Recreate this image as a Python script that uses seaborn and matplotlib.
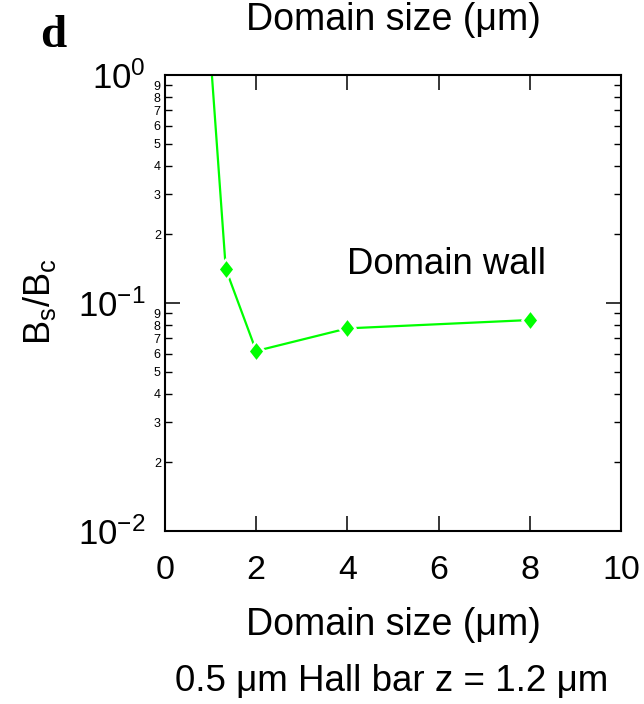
import numpy as np
import pandas as pd
import matplotlib
matplotlib.use("Agg")
import matplotlib.pyplot as plt
from matplotlib.ticker import LogLocator, FuncFormatter
import seaborn as sns

# data
domain_size = [1.0, 1.333, 2.0, 4.0, 8.0]
bs_over_bc = [1.2, 0.141, 0.0616, 0.0774, 0.0842]
x_ticks = [0, 2, 4, 6, 8, 10]

sns.set_theme(style="ticks")
plt.rcParams['font.family'] = ['Liberation Sans', 'DejaVu Sans']
plt.rcParams['mathtext.fontset'] = 'custom'
plt.rcParams['mathtext.rm'] = 'Liberation Sans'
plt.rcParams['mathtext.it'] = 'Liberation Sans'

fig = plt.figure(figsize=(6.44, 7.04), dpi=100)
ax = fig.add_axes([165/644, 1-531/704, (621-165)/644, (531-75)/704])

tall_diamond = [(0, 1), (0.78, 0), (0, -1), (-0.78, 0), (0, 1)]

df = pd.DataFrame({"size": domain_size, "ratio": bs_over_bc})
sns.lineplot(data=df, x="size", y="ratio", ax=ax, color="#00ff00",
             marker=tall_diamond, markersize=15, markeredgecolor="white",
             markeredgewidth=1.8, markerfacecolor="#00ff00", linewidth=1.6,
             sort=False)

ax.set_yscale("log")
ax.set_xlim(0, 10)
ax.set_ylim(1e-2, 1e0)
ax.set_xticks(x_ticks)
ax.set_xticklabels([str(t) for t in x_ticks])
ax.set_xlabel("")
ax.set_ylabel("")

ax.yaxis.set_major_locator(LogLocator(base=10, numticks=10))
ax.yaxis.set_minor_locator(LogLocator(base=10, subs=np.arange(2, 10), numticks=20))

def minor_fmt(v, pos):
    d = int(round(v / 10 ** np.floor(np.log10(v) + 1e-9)))
    return str(d)

def major_fmt(v, pos):
    e = int(round(np.log10(v)))
    return r"$\mathregular{10^{%d}}$" % e if e >= 0 else r"$\mathregular{10^{-%d}}$" % (-e)

ax.yaxis.set_minor_formatter(FuncFormatter(minor_fmt))
ax.yaxis.set_major_formatter(FuncFormatter(major_fmt))

for sp in ax.spines.values():
    sp.set_linewidth(1.5)
    sp.set_color("black")

ax.tick_params(axis="x", which="major", direction="in", top=True, bottom=True,
               length=11, width=1.1, labelsize=24.5, pad=17, colors="black")
ax.tick_params(axis="y", which="major", direction="in", left=True, right=True,
               length=11, width=1.1, labelsize=25, pad=14, colors="black")
ax.tick_params(axis="y", which="minor", direction="in", left=True, right=True,
               length=5, width=1.0, labelsize=9, pad=3, colors="black")

ax.text(4.0, 0.147, "Domain wall", fontsize=26.3, ha="left", va="center", color="black")

cx = (165 + 621) / 2 / 644
fig.text(cx, 1-20/704, "Domain size (\u03bcm)", fontsize=27, ha="center", va="center", color="black")
fig.text(cx, 1-625/704, "Domain size (\u03bcm)", fontsize=27, ha="center", va="center", color="black")
fig.text(392/644, 1-681/704, "0.5 \u03bcm Hall bar z = 1.2 \u03bcm", fontsize=26.5, ha="center", va="center", color="black")
fig.text(53/644, 1-36/704, "d", fontsize=34, fontweight="bold", family="Liberation Serif",
         ha="center", va="center", color="black")
fig.text(40/644, 1-302/704, r"$\mathregular{B_s/B_c}$", fontsize=26, rotation=90,
         ha="center", va="center", color="black")

fig.savefig("out.png", dpi=100)
